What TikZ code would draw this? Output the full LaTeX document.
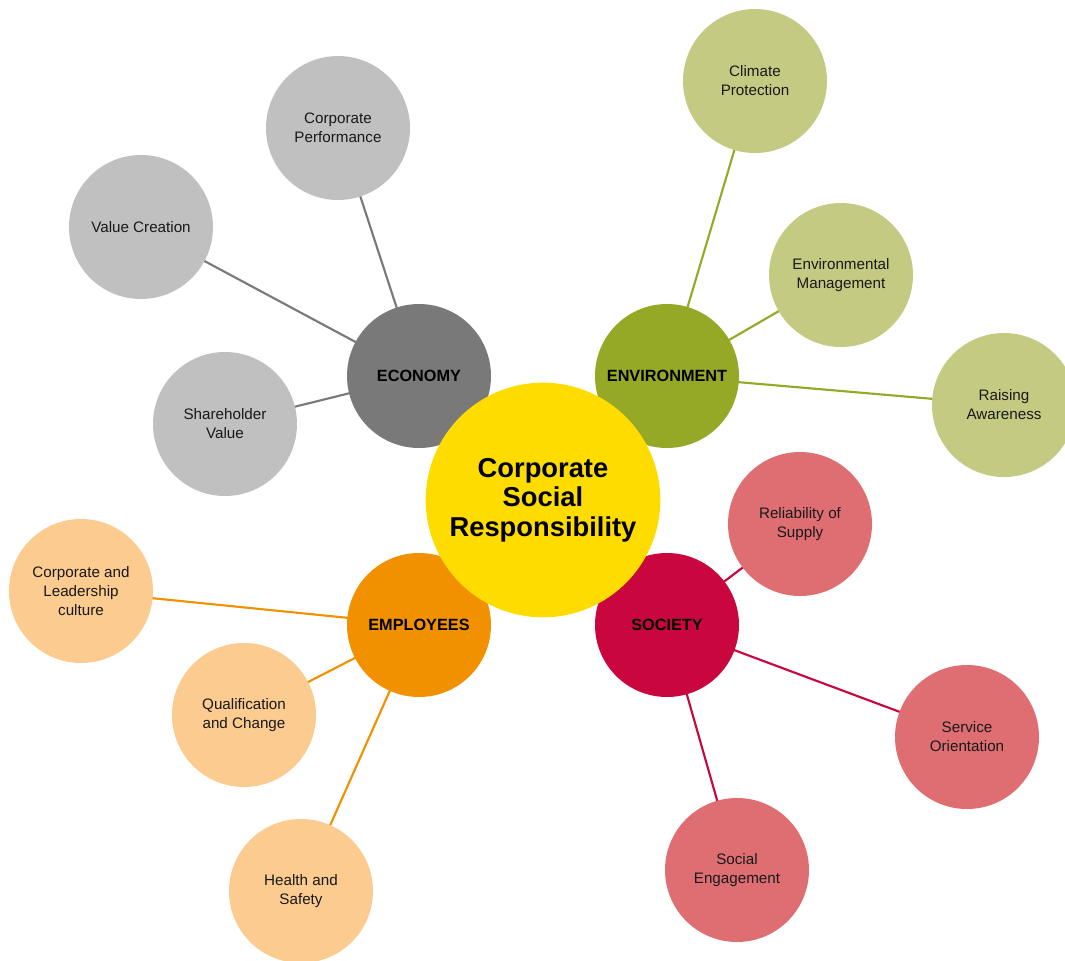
\documentclass[tikz,border=0pt]{standalone}
\usepackage{fontspec}
\setmainfont{Liberation Sans}
\usetikzlibrary{backgrounds}
\definecolor{grayleaf}{HTML}{C0C0C0}
\definecolor{ecohub}{HTML}{797979}
\definecolor{envhub}{HTML}{96A926}
\definecolor{envleaf}{HTML}{C5CA82}
\definecolor{csryellow}{HTML}{FFDC00}
\definecolor{sochub}{HTML}{C9063E}
\definecolor{socleaf}{HTML}{DE6E72}
\definecolor{emphub}{HTML}{F29100}
\definecolor{empleaf}{HTML}{FBCB8F}
\tikzset{
  leaf/.style={circle, minimum size=108pt, inner sep=0pt, align=center, text=black!90,
    font=\fontsize{11.4}{14.2}\selectfont},
  hub/.style={circle, minimum size=108pt, inner sep=0pt, align=center,
    font=\fontsize{12.2}{14}\selectfont\bfseries},
  centre/.style={circle, minimum size=176pt, inner sep=0pt, align=center, fill=csryellow,
    font=\fontsize{20.5}{22.2}\selectfont\bfseries},
  link/.style={line width=1.6pt}
}
\begin{document}
\begin{tikzpicture}[x=0.75pt,y=-0.75pt]
\useasboundingbox (0,0) rectangle (1065,961);
% leaves
\node[leaf, fill=grayleaf] (cp) at (338,128) {Corporate\\Performance};
\node[leaf, fill=grayleaf] (vc) at (141,227) {Value Creation};
\node[leaf, fill=grayleaf] (sv) at (225,424) {Shareholder\\Value};
\node[leaf, fill=envleaf] (clp) at (755,81) {Climate\\Protection};
\node[leaf, fill=envleaf] (em) at (841,275) {Environmental\\Management};
\node[leaf, fill=envleaf] (ra) at (1004,405) {Raising\\Awareness};
\node[leaf, fill=socleaf] (rs) at (800,524) {Reliability of\\Supply};
\node[leaf, fill=socleaf] (so) at (967,737) {Service\\Orientation};
\node[leaf, fill=socleaf] (se) at (737,870) {Social\\Engagement};
\node[leaf, fill=empleaf] (clc) at (81,591) {Corporate and\\Leadership\\culture};
\node[leaf, fill=empleaf] (qc) at (244,715) {Qualification\\and Change};
\node[leaf, fill=empleaf] (hs) at (301,891) {Health and\\Safety};
% hubs
\node[hub, fill=ecohub] (eco) at (419,376) {ECONOMY};
\node[hub, fill=envhub] (env) at (667,376) {ENVIRONMENT};
\node[hub, fill=emphub] (emp) at (419,625) {EMPLOYEES};
\node[hub, fill=sochub] (soc) at (667,625) {SOCIETY};
% centre
\node[centre] (csr) at (543,500) {Corporate\\Social\\Responsibility};
% connectors
\begin{pgfonlayer}{background}
\draw[link, ecohub] (eco.center) -- (cp.center);
\draw[link, ecohub] (eco.center) -- (vc.center);
\draw[link, ecohub] (eco.center) -- (sv.center);
\draw[link, envhub] (env.center) -- (clp.center);
\draw[link, envhub] (env.center) -- (em.center);
\draw[link, envhub] (env.center) -- (ra.center);
\draw[link, sochub] (soc.center) -- (rs.center);
\draw[link, sochub] (soc.center) -- (so.center);
\draw[link, sochub] (soc.center) -- (se.center);
\draw[link, emphub] (emp.center) -- (clc.center);
\draw[link, emphub] (emp.center) -- (qc.center);
\draw[link, emphub] (emp.center) -- (hs.center);
\end{pgfonlayer}
\end{tikzpicture}
\end{document}
